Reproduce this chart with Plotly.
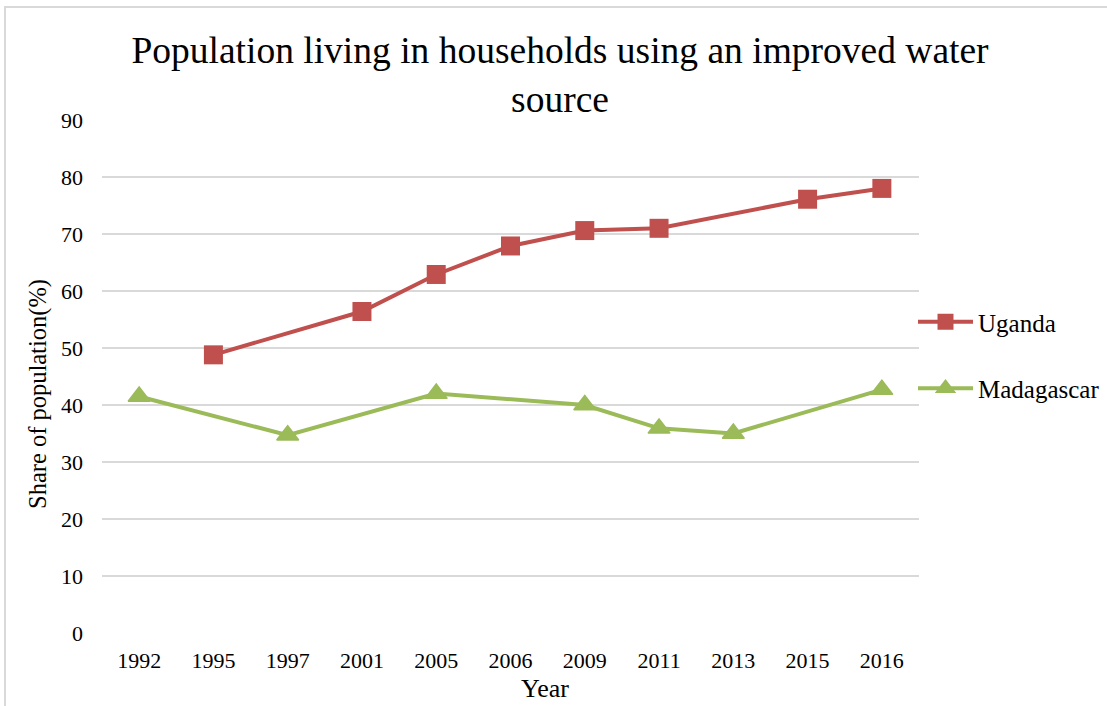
import plotly.graph_objects as go

# Survey years shown on the category axis
years = ["1992", "1995", "1997", "2001", "2005", "2006", "2009", "2011", "2013", "2015", "2016"]

# Share of population (%) using an improved water source; None = no survey that year
uganda = [None, 48.8, None, 56.4, 62.9, 67.9, 70.6, 71.0, None, 76.1, 78.0]
madagascar = [41.5, None, 34.7, None, 42.0, None, 40.0, 35.9, 35.0, None, 42.7]

y_ticks = [0, 10, 20, 30, 40, 50, 60, 70, 80, 90]

FONT = "Times New Roman, Liberation Serif, serif"
RED = "#C0504D"
GREEN = "#9BBB59"
GRID = "#D9D9D9"

W, H = 1107, 706
L, R, T, B = 102, 188, 120, 73
PW, PH = W - L - R, H - T - B


def px_x(x):
    """Pixel column -> paper x."""
    return (x - L) / PW


def px_y(y):
    """Pixel row -> paper y."""
    return (H - B - y) / PH


fig = go.Figure()
fig.add_trace(go.Scatter(
    x=years, y=uganda, name="Uganda", mode="lines+markers",
    connectgaps=True, legendgroup="u",
    line=dict(color=RED, width=4),
    marker=dict(symbol="square", size=19, color=RED),
))
fig.add_trace(go.Scatter(
    x=years, y=madagascar, name="Madagascar", mode="lines+markers",
    connectgaps=True, legendgroup="m",
    line=dict(color=GREEN, width=4),
    marker=dict(symbol="triangle-up", size=19, color=GREEN,
                line=dict(color=GREEN, width=1.5)),
))

# light chart-area frame
fig.add_shape(
    type="rect", xref="paper", yref="paper",
    x0=px_x(5), x1=px_x(W + 5), y0=px_y(H + 5), y1=px_y(7),
    line=dict(color=GRID, width=2), fillcolor="rgba(0,0,0,0)", layer="below",
)

# axis titles
fig.add_annotation(
    text="Share of population(%)", textangle=-90, showarrow=False,
    xref="paper", yref="paper", x=px_x(38), y=px_y(394),
    xanchor="center", yanchor="middle",
    font=dict(family=FONT, size=24.5, color="black"),
)
fig.add_annotation(
    text="Year", showarrow=False,
    xref="paper", yref="paper", x=px_x(545), y=px_y(688),
    xanchor="center", yanchor="middle",
    font=dict(family=FONT, size=26, color="black"),
)

fig.update_layout(
    width=W, height=H,
    margin=dict(l=L, r=R, t=T, b=B, autoexpand=False),
    paper_bgcolor="white", plot_bgcolor="white",
    font=dict(family=FONT, color="black", size=22),
    title=dict(
        text="Population living in households using an improved water<br>source",
        x=560 / W, xanchor="center", y=1 - 63 / H, yanchor="top",
        font=dict(family=FONT, size=37.5, color="black"),
    ),
    xaxis=dict(
        type="category", categoryorder="array", categoryarray=years,
        range=[-0.5, len(years) - 0.5],
        showgrid=False, zeroline=False, showline=False, ticks="",
        tickfont=dict(size=22), ticklabelstandoff=12,
    ),
    yaxis=dict(
        range=[0, 90], tickvals=y_ticks, ticktext=[str(v) for v in y_ticks],
        showgrid=True, gridcolor=GRID, gridwidth=1.5,
        zeroline=False, showline=False, ticks="",
        tickfont=dict(size=22), ticklabelstandoff=18,
    ),
    legend=dict(
        x=px_x(913), xanchor="left", y=px_y(355), yanchor="middle",
        font=dict(size=25), tracegroupgap=31, itemwidth=55,
        bgcolor="rgba(0,0,0,0)",
    ),
    showlegend=True,
)

fig.write_html("out.html")
